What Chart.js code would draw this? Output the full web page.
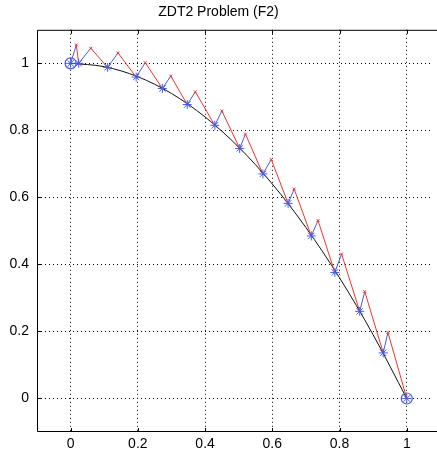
<!DOCTYPE html>
<html>
<head>
<meta charset="utf-8">
<script src="https://cdn.jsdelivr.net/npm/chart.js@4"></script>
<style>
  html, body { margin: 0; padding: 0; background: #fff; }
  #wrap { width: 437px; height: 455px; }
</style>
</head>
<body>
<div id="wrap"><canvas id="chart-zdt2"></canvas></div>
<script>
// points found on the front (f1, f2)
const frontX = [0, 0.024, 0.11, 0.195, 0.273, 0.347, 0.429, 0.503, 0.572, 0.647, 0.716, 0.786, 0.86, 0.93, 1.0];
const frontY = [1.0, 1.0, 0.988, 0.959, 0.925, 0.877, 0.815, 0.746, 0.67, 0.582, 0.485, 0.376, 0.26, 0.136, 0.0];

// tips of the search directions
const peakX = [0.017, 0.06, 0.141, 0.222, 0.298, 0.371, 0.45, 0.52, 0.597, 0.665, 0.736, 0.806, 0.875, 0.944];
const peakY = [1.055, 1.045, 1.031, 1.002, 0.962, 0.915, 0.858, 0.789, 0.713, 0.625, 0.531, 0.431, 0.319, 0.197];

// true pareto front
const curveX = [0, 0.1, 0.2, 0.3, 0.4, 0.5, 0.6, 0.7, 0.8, 0.9, 1.0];
const curveY = [1.0, 0.99, 0.96, 0.91, 0.84, 0.75, 0.64, 0.51, 0.36, 0.19, 0.0];

const xTicks = [0, 0.2, 0.4, 0.6, 0.8, 1];
const yTicks = [0, 0.2, 0.4, 0.6, 0.8, 1];

const blue = 'rgb(70, 90, 225)';
const red = 'rgb(245, 50, 40)';

// blue: front point -> tip, red: tip -> next front point
const blueSegs = [];
const redSegs = [];
for (let i = 0; i < peakX.length; i++) {
    blueSegs.push({ x: frontX[i], y: frontY[i] }, { x: peakX[i], y: peakY[i] }, { x: peakX[i], y: null });
    redSegs.push({ x: peakX[i], y: peakY[i] }, { x: frontX[i + 1], y: frontY[i + 1] }, { x: frontX[i + 1], y: null });
}
const curve = curveX.map((x, i) => ({ x: x, y: curveY[i] }));
const stars = frontX.map((x, i) => ({ x: x, y: frontY[i] }));
const tips = peakX.map((x, i) => ({ x: x, y: peakY[i] }));
const ends = [stars[0], stars[stars.length - 1]];

// solid box on left, top and bottom (right edge falls off the picture)
const framePlugin = {
    id: 'frame',
    afterDraw(chart) {
        const a = chart.chartArea;
        const c = chart.ctx;
        const w = chart.width;
        c.save();
        c.strokeStyle = '#000';
        c.lineWidth = 1;
        c.beginPath();
        c.moveTo(w, a.top + 0.5);
        c.lineTo(a.left + 0.5, a.top + 0.5);
        c.lineTo(a.left + 0.5, a.bottom - 0.5);
        c.lineTo(w, a.bottom - 0.5);
        c.stroke();
        // little inward ticks
        c.beginPath();
        xTicks.forEach(v => {
            const px = Math.round(chart.scales.x.getPixelForValue(v)) + 0.5;
            c.moveTo(px, a.bottom); c.lineTo(px, a.bottom - 4);
            c.moveTo(px, a.top); c.lineTo(px, a.top + 4);
        });
        yTicks.forEach(v => {
            const py = Math.round(chart.scales.y.getPixelForValue(v)) + 0.5;
            c.moveTo(a.left, py); c.lineTo(a.left + 4, py);
        });
        c.stroke();
        c.restore();
    }
};

const ctx = document.getElementById('chart-zdt2').getContext('2d');
new Chart(ctx, {
    type: 'scatter',
    data: {
        datasets: [
            {
                label: 'Pareto front',
                data: curve,
                showLine: true,
                borderColor: '#111',
                borderWidth: 1,
                pointRadius: 0,
                cubicInterpolationMode: 'monotone',
                order: 5
            },
            {
                label: 'blue',
                data: blueSegs,
                showLine: true,
                spanGaps: false,
                borderColor: blue,
                borderWidth: 1,
                pointRadius: 0,
                order: 4
            },
            {
                label: 'red',
                data: redSegs,
                showLine: true,
                spanGaps: false,
                borderColor: red,
                borderWidth: 1,
                pointRadius: 0,
                order: 3
            },
            {
                label: 'tips',
                data: tips,
                pointStyle: 'crossRot',
                pointRadius: 2,
                borderColor: red,
                borderWidth: 1,
                order: 2
            },
            {
                label: 'front',
                data: stars,
                pointStyle: 'star',
                pointRadius: 4.5,
                borderColor: blue,
                borderWidth: 1,
                order: 1
            },
            {
                label: 'ends',
                data: ends,
                pointStyle: 'circle',
                pointRadius: 5.5,
                backgroundColor: 'rgba(0,0,0,0)',
                borderColor: blue,
                borderWidth: 1.2,
                order: 0
            }
        ]
    },
    options: {
        responsive: true,
        maintainAspectRatio: false,
        animation: false,
        layout: { padding: 0 },
        plugins: {
            legend: { display: false },
            tooltip: { enabled: false },
            title: {
                display: true,
                text: 'ZDT2 Problem (F2)',
                color: '#000',
                font: { family: 'Liberation Sans', size: 14, weight: 'normal' },
                padding: { top: 4, bottom: 9 }
            }
        },
        scales: {
            x: {
                type: 'linear',
                min: -0.1,
                max: 1.07,
                afterBuildTicks: s => { s.ticks = xTicks.map(v => ({ value: v })); },
                afterFit: s => { s.height = 23; },
                grid: { color: '#000', lineWidth: 1, drawTicks: false },
                border: { display: false, dash: [1, 3] },
                ticks: {
                    color: '#000',
                    padding: 4,
                    maxRotation: 0,
                    font: { family: 'Liberation Sans', size: 14 },
                    callback: v => String(v)
                }
            },
            y: {
                type: 'linear',
                min: -0.1,
                max: 1.1,
                afterBuildTicks: s => { s.ticks = yTicks.map(v => ({ value: v })); },
                afterFit: s => { s.width = 37; },
                grid: { color: '#000', lineWidth: 1, drawTicks: false },
                border: { display: false, dash: [1, 3] },
                ticks: {
                    color: '#000',
                    padding: 8,
                    font: { family: 'Liberation Sans', size: 14 },
                    callback: v => String(v)
                }
            }
        }
    },
    plugins: [framePlugin]
});
</script>
</body>
</html>
